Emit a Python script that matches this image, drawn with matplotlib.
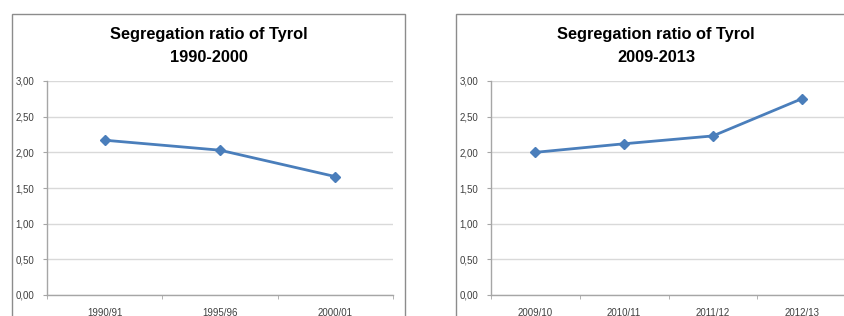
import matplotlib.pyplot as plt
from matplotlib.patches import Rectangle

# data
left_years = ['1990/91', '1995/96', '2000/01']
left_ratio = [2.17, 2.03, 1.66]
right_years = ['2009/10', '2010/11', '2011/12', '2012/13']
right_ratio = [2.00, 2.12, 2.23, 2.75]
y_ticks = [0, 0.5, 1.0, 1.5, 2.0, 2.5, 3.0]

W, H = 844, 316
fig = plt.figure(figsize=(W / 100, H / 100), dpi=100)

title_font = ['Liberation Sans', 'DejaVu Sans']
tick_font = ['Liberation Sans', 'DejaVu Sans']
line_color = '#4A7EBB'


def px_rect(x0, y0, x1, y1):
    # pixel box (top-left origin) -> figure fraction [l, b, w, h]
    return [x0 / W, 1 - y1 / H, (x1 - x0) / W, (y1 - y0) / H]


def draw_chart(frame, plot_box, title_lines, cats, vals):
    fx0, fy0, fx1, fy1 = frame
    r = px_rect(fx0, fy0, fx1, fy1)
    fig.patches.append(Rectangle((r[0], r[1]), r[2], r[3], transform=fig.transFigure,
                                 fill=False, edgecolor='#8c8c8c', linewidth=1.0))
    cx = (fx0 + fx1) / 2 / W
    fig.text(cx, 1 - 35 / H, title_lines[0], ha='center', va='center',
             fontsize=11.8, fontweight='bold', family=title_font)
    fig.text(cx, 1 - 57 / H, title_lines[1], ha='center', va='center',
             fontsize=11.8, fontweight='bold', family=title_font)

    ax = fig.add_axes(px_rect(*plot_box))
    n = len(cats)
    x = list(range(n))
    ax.plot(x, vals, color=line_color, linewidth=2, marker='D', markersize=5.5,
            markerfacecolor=line_color, markeredgecolor=line_color, clip_on=False)
    ax.set_xlim(-0.5, n - 0.5)
    ax.set_ylim(0, 3)
    ax.set_yticks(y_ticks)
    ax.set_yticklabels([f'{v:.2f}'.replace('.', ',') for v in y_ticks],
                       fontsize=7, color='#404040', family=tick_font)
    ax.set_xticks(x)
    ax.set_xticklabels(cats, fontsize=7, color='#404040', family=tick_font)
    ax.set_xticks([i - 0.5 for i in range(n + 1)], minor=True)
    ax.tick_params(axis='x', which='major', length=0, pad=9)
    ax.tick_params(axis='x', which='minor', length=3, color='#a6a6a6', direction='out')
    ax.tick_params(axis='y', length=3, color='#a6a6a6', pad=6)
    ax.grid(axis='y', color='#d9d9d9', linewidth=1.0)
    ax.set_axisbelow(True)
    for s in ['top', 'right']:
        ax.spines[s].set_visible(False)
    for s in ['left', 'bottom']:
        ax.spines[s].set_color('#a6a6a6')
        ax.spines[s].set_linewidth(1.0)
    return ax


draw_chart((12, 14, 405, 330), (47, 81, 393, 295),
           ['Segregation ratio of Tyrol', '1990-2000'], left_years, left_ratio)
draw_chart((456, 14, 856, 330), (491, 81, 846, 295),
           ['Segregation ratio of Tyrol', '2009-2013'], right_years, right_ratio)

fig.savefig('out.png', dpi=100)
